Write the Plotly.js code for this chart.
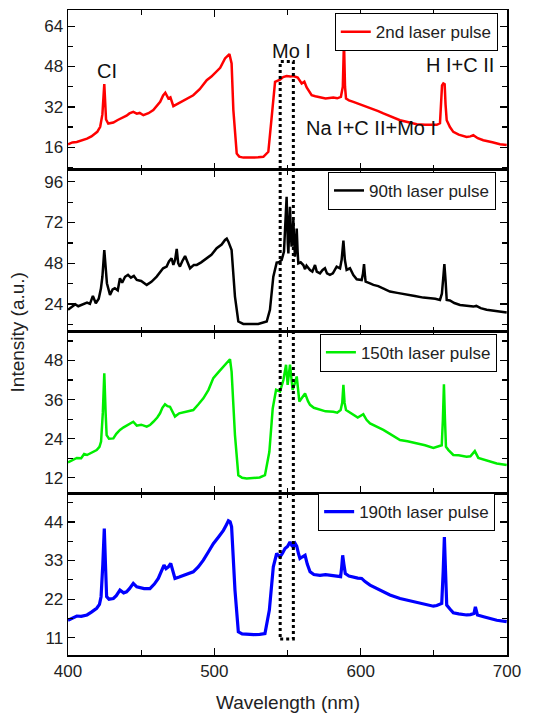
<!DOCTYPE html>
<html>
<head>
<meta charset="utf-8">
<script src="https://cdn.plot.ly/plotly-3.0.1.min.js"></script>
<style>html,body{margin:0;padding:0;background:#fff;}#chart{width:542px;height:715px;}</style>
</head>
<body>
<div id="chart"></div>
<script>
// ---- data ----
const seriesNames = ['2nd laser pulse', '90th laser pulse', '150th laser pulse', '190th laser pulse'];

const wl2nd = [400,403,406,409,413,416,420,422,423.5,424.8,426,427.5,431,434,437,440,442,444.6,447,449,451.5,455,458.3,461,463,465,466.5,468.6,470,472,475,477.7,481,485.6,490,494.8,498,501.6,504,507.3,509,510.3,511.8,513,515.3,517,519.8,525,530,533.5,536.9,539.2,541.5,544.9,547,549.4,552,554,557,559.7,561.5,563.1,566.5,569,572.2,576,581.3,584,586.5,587.8,588.6,589.3,590,592,595,600,604,608,612,615.5,620,626.9,632,638.3,644,649.7,652,654.2,655,655.6,656.5,657.4,658,658.8,661,663.3,667,672.4,675,677,680,683.8,690,695.2,699.8];
const int2nd = [17.2,17.9,18.1,18.6,19.4,20.3,22.1,24.1,29,41.0,27,25.4,25.8,26.8,27.6,28.5,29.4,30.0,29.3,29.6,28.7,29.5,30.7,32.5,34.0,36.5,37.6,35.3,35.8,32.3,33.2,34.0,35.0,36.6,39.0,42.6,44.0,45.9,47.5,51.2,52.0,52.9,49.2,30.7,13.5,12.3,11.9,11.8,12.0,12.2,14.2,28.0,41.9,42.8,43.8,44.2,44.0,44.2,43.6,41.3,42.0,39.7,36.6,36.2,35.7,35.3,35.7,35.4,36.0,40,58.2,40,35.3,34.6,34.0,33.0,32.0,31.2,30.3,29.4,28.3,26.7,26.0,25.1,24.9,24.7,24.9,25.5,32,40.5,41.3,41.0,33,26.7,24.0,22.1,21.0,20.1,20.3,20.8,19.6,18.8,18.0,17.2,16.9];

const wl90th = [400,403,405,407,410,413,415,417,419,421,422.5,423.5,424.8,425.8,426.6,428.7,430.5,432,434,435.5,437,439,441,443,445,447,450,453.8,457,460.6,463,465,467.4,469,470.8,472,473.2,474.3,475.3,476.5,478,480,481.5,483.4,486,488,491,494.8,498,501.6,505,507.3,508.5,509.6,511.8,514.1,516.4,519.8,525,530,535.8,538,540.3,542.6,544,546,547.6,548.6,549.4,550.2,550.6,551.2,551.7,552.3,552.8,553.5,554,554.6,555.1,555.8,556.3,556.9,557.4,559,560.8,562,563,565.4,567,568.8,570,572.2,574,575.6,577,579,581,583.6,585.9,587,588.2,589.2,590.4,592.7,595,597.3,600.7,601.6,602.3,603,603.4,606,608.7,612,615,620,625,631.4,637,642.8,648,651,654.2,655.5,656.5,657.2,658,658.8,661,664,667.9,672,677,679,682,686.1,690,695,699.8];
const int90th = [20.5,22.5,23.8,22.6,23.9,24.8,24.0,28.7,24.4,27,33,40,55.8,45,36.2,29.3,32.5,33.2,32,39.1,36.5,40,41.1,39.5,40.5,38.1,37.5,35.2,37,40.1,42.5,45,46.0,49,50.9,47.0,50,56.4,48,46.0,49,52.2,49,45.0,47,47.0,48.5,50.9,53,56.8,59,61.7,62.5,60.7,55.8,28.3,13.6,12.2,12.0,12.1,13.6,20.5,40.1,48.3,48.5,49.9,54.8,70,87.2,60,53.8,70,81.3,65,57.7,66,73.4,60,51.9,60,68.5,55,47.9,48.5,46.9,44.5,46.5,44.0,43,46.9,43,42.0,44,45.0,42,41.1,42,46.0,45.0,50,61.3,50,44.0,45.0,41,38.5,38.1,42,47.5,40,37.1,36.2,35.2,34.5,33.2,31.3,30.5,29.3,28.6,27.7,27.5,27.0,26.3,30,40,47.5,38,26.3,26.0,24.5,23.4,23.0,22.4,22.8,21.5,20.5,20.0,19.3,18.9];

const wl150th = [400,403,406,409,411,413,416,419.6,421.5,422.6,423.8,424.8,425.7,426.4,428,431,433,435.5,438,441,444.6,447,450,453.8,456,458.3,461,462.9,464.5,466.3,468,469.7,471.5,473.1,476,478.8,482,485.6,489,492.5,496,499.3,503,506.2,508.5,510.7,511.8,514.1,516.4,519,522.1,527,531,534.6,537.6,539.9,542.2,544.9,547.2,549,550.1,551.7,553.5,555,556.3,558.1,560,562,564,565.4,568,572.2,576,581.3,584,586.3,587.4,588.2,589,590,592,595,598,601.8,604,606.4,610,615.5,620,626.9,632,638.3,644,649.7,652,655.4,656.2,656.9,657.6,658.3,660,663.3,667,672.4,675,677,678,680.4,684,688.3,693,699.8];
const int150th = [16.7,17.5,18.1,18.0,19.3,19.0,19.8,20.5,21.5,23.1,32,44.1,32,25.1,24.0,24.1,25.5,26.7,27.5,28.4,29.2,28.0,28.3,27.7,28.2,29.2,30.5,31.8,33.5,34.6,34.0,33.8,32.0,30.8,31.8,32.1,32.4,32.8,34.5,36.4,39.0,42.6,44.5,46.2,47.2,48.4,44.6,25.1,12.8,12.0,11.8,12.0,12.1,12.8,20.0,33.3,39.0,38.5,42.0,46.7,40.5,46.7,39.0,41,43.1,35.4,36.5,37.9,35.5,34.4,33.5,32.8,32.4,32.3,32.0,32.8,35,40.5,35,32.8,32.2,31.3,30.5,31.5,29.8,28.7,28.0,26.7,25.5,23.6,23.2,22.6,22.0,21.2,21.5,22.0,30,40.7,30,21.5,20.5,19.0,18.9,18.5,18.6,19.5,20.2,18.1,17.6,16.9,16.4,15.9];

const wl190th = [400,403,406,409,413,416,419.6,421.5,422.6,423.8,424.8,425.6,426.4,428,431,433,435.5,438,440,442,444.6,447,449.2,452,456,459,461.7,463.5,465.6,467,468.6,470.2,471.5,473.1,476,478.8,482,485.6,489,492.5,496,499.3,503,506.2,508,509.6,510.8,511.8,514.1,516.4,519,522.1,527,531,534.6,537.6,540.3,542.6,544.9,546.5,548.3,550,551.7,553,554,555.3,556.3,557.5,558.5,560,562,563.5,565.4,568,572.2,576,581.3,584,586.3,587,587.7,588.5,589.5,592,595,598,600.7,603,606.4,610,615.5,620,626.9,632,638.3,644,649.7,652,655.4,656.4,657.2,658,658.8,661,663.3,667,672.4,675,677.4,678.4,679.8,684,688.3,693,699.8];
const int190th = [16.0,16.7,17.2,17.1,17.5,18.3,19.4,20.5,22.7,32,42.1,32,22.7,22.0,22.2,23.0,24.6,23.8,24.1,25.0,26.5,25.5,25.3,25.0,25.0,26.3,27.9,29.5,31.7,30.7,31.2,32.2,30.0,27.9,28.3,28.8,29.2,29.8,31.2,33.1,35.5,37.8,39.8,41.6,43.0,44.3,44.0,42.6,24.6,12.7,12.1,12.0,11.9,12.0,12.2,18.9,31.2,35.0,34.0,35.0,36.4,37.0,38.3,37.2,36.9,37.8,37.1,35.0,33.6,34.0,34.5,32.0,29.8,29.0,28.8,29.0,28.8,28.6,28.4,31,34.5,32,29.3,28.6,28.2,28.0,27.9,27.0,26.0,25.2,24.1,23.2,22.2,21.7,21.2,20.6,20.0,20.2,20.8,30,39.7,30,20.3,19.2,18.1,17.8,17.5,17.6,17.9,19.8,17.5,17.0,16.5,16.0,15.6];

// y tick spacing of each panel
const yTickSteps = [16, 24, 12, 11];
const yRanges = [[7, 70.4], [7.5, 103], [7.3, 56.8], [6.1, 52.2]];

// peak labels (top panel)
const peakLabels = ['CI', 'Mo I', 'H I+C II', 'Na I+C II+Mo I'];
const peakLabelWl = [426.7, 552.4, 667.9, 607];
const peakLabelInt = [46.1, 54.1, 48.5, 23.5];

// dotted band around Mo I / Na I region
const bandWl = [545, 554];

// ---- figure ----
const FONT = 'Liberation Sans, Arial, sans-serif';
const colors = ['#ff0000', '#000000', '#00ee00', '#0000ff'];
const widths = [2.5, 2.5, 2.5, 3.2];
const wls = [wl2nd, wl90th, wl150th, wl190th];
const ints = [int2nd, int90th, int150th, int190th];
const domains = [[0.752, 1], [0.501, 0.752], [0.251, 0.501], [0, 0.251]];
const legendTops = [0.995, 0.749, 0.498, 0.251];
const legendRights = [0.979, 0.975, 0.977, 0.973];

const traces = [];
const layout = {
  width: 542, height: 715,
  margin: {l: 68, r: 35, t: 10, b: 60},
  paper_bgcolor: '#fff', plot_bgcolor: '#fff',
  font: {family: FONT, color: '#000', size: 17},
  annotations: [], shapes: []
};

for (let i = 0; i < 4; i++) {
  const n = i === 0 ? '' : String(i + 1);
  const legName = i === 0 ? 'legend' : 'legend' + (i + 1);
  traces.push({
    x: wls[i], y: ints[i], type: 'scatter', mode: 'lines',
    name: seriesNames[i], xaxis: 'x' + n, yaxis: 'y' + n,
    line: {color: colors[i], width: widths[i]},
    legend: legName, showlegend: true
  });
  layout['xaxis' + n] = {
    domain: [0, 1], anchor: 'y' + n, range: [400, 700],
    tick0: 400, dtick: 100, ticks: 'inside', ticklen: 7, tickwidth: 1.3, tickcolor: '#000',
    minor: {dtick: 50, ticks: 'inside', ticklen: 5, tickwidth: 1.3, tickcolor: '#000'},
    showline: true, linecolor: '#000', linewidth: 1.5, mirror: 'allticks',
    showgrid: false, zeroline: false, showticklabels: i === 3,
    tickfont: {family: FONT, size: 17, color: '#222'}
  };
  if (i > 0) layout['xaxis' + n].matches = 'x';
  layout['yaxis' + n] = {
    domain: domains[i], anchor: 'x' + n, range: yRanges[i],
    tick0: 0, dtick: yTickSteps[i], ticks: 'inside', ticklen: 7, tickwidth: 1.3, tickcolor: '#000',
    minor: {dtick: yTickSteps[i] / 2, ticks: 'inside', ticklen: 5, tickwidth: 1.3, tickcolor: '#000'},
    showline: true, linecolor: '#000', linewidth: 1.5, mirror: 'allticks',
    showgrid: false, zeroline: false,
    tickfont: {family: FONT, size: 17, color: '#222'}
  };
  layout[legName] = {
    x: legendRights[i], y: legendTops[i], xanchor: 'right', yanchor: 'top',
    bgcolor: '#fff', bordercolor: '#000', borderwidth: 1,
    font: {family: FONT, size: 17, color: '#222'},
    tracegroupgap: 0, itemwidth: 30
  };
}

for (let k = 0; k < peakLabels.length; k++) {
  layout.annotations.push({
    text: peakLabels[k], x: peakLabelWl[k], y: peakLabelInt[k], xref: 'x', yref: 'y',
    showarrow: false, xanchor: 'center', yanchor: 'middle',
    font: {family: FONT, size: 20, color: '#111'}
  });
}
layout.annotations.push({
  text: 'Intensity (a.u.)', textangle: -90, xref: 'paper', yref: 'paper',
  x: -0.114, y: 0.5, xanchor: 'center', yanchor: 'middle', showarrow: false,
  font: {family: FONT, size: 19, color: '#222'}
});
layout.annotations.push({
  text: 'Wavelength (nm)', xref: 'paper', yref: 'paper',
  x: 0.5, y: -0.073, xanchor: 'center', yanchor: 'middle', showarrow: false,
  font: {family: FONT, size: 19, color: '#222'}
});

layout.shapes.push({
  type: 'rect', xref: 'x4', yref: 'paper',
  x0: bandWl[0], x1: bandWl[1], y0: 0.025, y1: 0.92,
  line: {color: '#000', width: 3, dash: 'dot'}, fillcolor: 'rgba(0,0,0,0)'
});

Plotly.newPlot('chart', traces, layout, {staticPlot: true, displayModeBar: false});
</script>
</body>
</html>
